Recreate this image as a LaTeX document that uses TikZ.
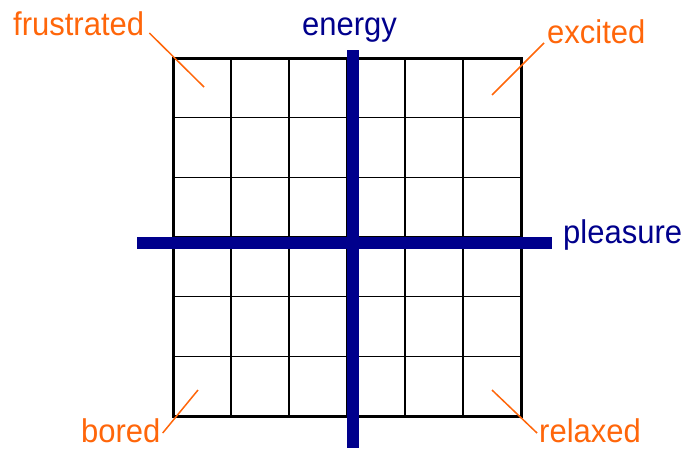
\documentclass[tikz,border=0pt]{standalone}
\usepackage{fontspec}
\setmainfont{Liberation Sans}
\definecolor{lblorange}{RGB}{255,102,10}
\definecolor{axisblue}{RGB}{0,0,140}
\tikzset{
  gridthin/.style={draw=black,line width=1.6pt},
  gridthick/.style={draw=black,line width=3pt},
  axisbar/.style={draw=axisblue,line width=12pt,line cap=butt},
  moodlabel/.style={text=lblorange,font=\fontsize{31}{36}\selectfont,inner sep=0pt,anchor=base west,yscale=1.06},
  axislabel/.style={text=axisblue,font=\fontsize{31}{36}\selectfont,inner sep=0pt,anchor=base west,yscale=1.06},
  leader/.style={draw=lblorange,line width=1.5pt}
}
\begin{document}
\begin{tikzpicture}[x=1pt,y=-1pt]
\useasboundingbox (0,0) rectangle (684,448);
% grid
\foreach \i in {1,...,5} {
  \draw[gridthin] ({173+\i*58},58) -- ({173+\i*58},416);
  \draw[gridthin] (173,{58+\i*59.67}) -- (521,{58+\i*59.67});
}
\draw[gridthick] (173,58) rectangle (521,416);
% axes
\coordinate (vtop) at (352.5,50);
\coordinate (vbot) at (352.5,448);
\coordinate (hleft) at (137,243);
\coordinate (hright) at (552,243);
\draw[axisbar] (hleft) -- (hright);
\draw[axisbar] (vtop) -- (vbot);
% axis labels
\node[axislabel] (energy) at (302,35) {energy};
\node[axislabel] (pleasure) at (563,243) {pleasure};
% mood labels
\node[moodlabel] (frustrated) at (13,35) {frustrated};
\node[moodlabel] (excited) at (547,43) {excited};
\node[moodlabel] (bored) at (81,442) {bored};
\node[moodlabel] (relaxed) at (539,442) {relaxed};
% leader lines
\coordinate (fr) at (204,87);
\coordinate (ex) at (492,95);
\coordinate (bo) at (198,390);
\coordinate (re) at (492,390);
\draw[leader] (frustrated.base east) ++(5,-2) coordinate (fr0) (fr0) -- (fr);
\draw[leader] (excited.base west) ++(-3,0) coordinate (ex0) (ex0) -- (ex);
\draw[leader] (bored.base east) ++(2,-9) coordinate (bo0) (bo0) -- (bo);
\draw[leader] (relaxed.base west) ++(-2,-9) coordinate (re0) (re0) -- (re);
\end{tikzpicture}
\end{document}
